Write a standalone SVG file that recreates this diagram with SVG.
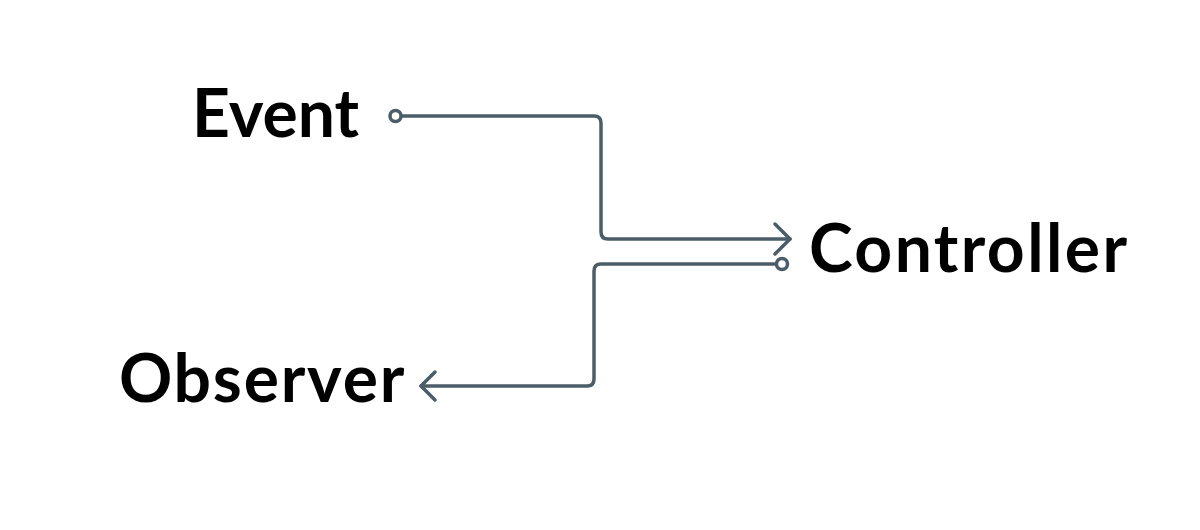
<svg xmlns="http://www.w3.org/2000/svg" width="1200" height="530" viewBox="0 0 1200 530">
<style>
.lbl{font-family:Lato,"Liberation Sans",sans-serif;font-weight:700;font-size:66px;fill:#000}
.wire{fill:none;stroke:#4b5d68;stroke-width:3.5;stroke-linecap:round;stroke-linejoin:round}
.dot{fill:#fff;stroke:#4b5d68;stroke-width:3.5}
</style>
<rect width="1200" height="530" fill="#fff"/>
<g id="event"><text class="lbl" x="192" y="137">Event</text></g>
<g id="controller"><text class="lbl" x="809" y="272" letter-spacing="2.4">Controller</text></g>
<g id="observer"><text class="lbl" x="119" y="402" letter-spacing="1.8">Observer</text></g>
<g id="connectors">
<path class="wire" d="M401 116 H594 Q601 116 601 123 V232 Q601 239 608 239 H790"/>
<path class="wire" d="M775 224 L790 239 L775 254"/>
<circle class="dot" cx="395.5" cy="116" r="5.5"/>
<path class="wire" d="M776 264 H601 Q594 264 594 271 V379 Q594 386 587 386 H421"/>
<path class="wire" d="M435 372 L421 386 L435 400"/>
<circle class="dot" cx="782" cy="264" r="5.5"/>
</g>
</svg>
